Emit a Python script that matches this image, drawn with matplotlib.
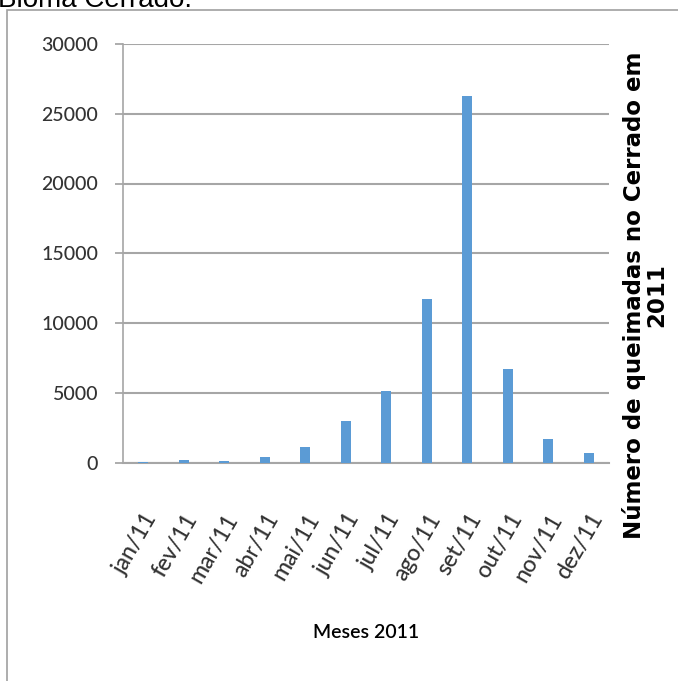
import matplotlib
matplotlib.use("Agg")
import matplotlib.pyplot as plt
from matplotlib.patches import Rectangle

# dados: número de queimadas no Cerrado por mês (2011)
meses = ["jan/11", "fev/11", "mar/11", "abr/11", "mai/11", "jun/11",
         "jul/11", "ago/11", "set/11", "out/11", "nov/11", "dez/11"]
queimadas = [20, 215, 120, 430, 1080, 2950, 5140, 11750, 26240, 6680, 1650, 690]
yticks = [0, 5000, 10000, 15000, 20000, 25000, 30000]

W, H = 678, 681
fig = plt.figure(figsize=(W / 100, H / 100), dpi=100)

fonte = ["Lato", "DejaVu Sans"]

# moldura do gráfico (cortada nas bordas da imagem)
fig.patches.append(Rectangle((7 / W, -0.1), 1.2, 1 - 10 / H + 0.1,
                             transform=fig.transFigure, fill=False,
                             edgecolor="#a0a0a0", lw=1.2))

# resto do texto da página acima do gráfico (cortado no topo, como no original)
fig.text(-2 / W, 1 - 7 / H, "Bioma Cerrado.", fontsize=20,
         family="Liberation Sans", color="black", va="baseline", ha="left")

ax = fig.add_axes([123 / W, 1 - 462.5 / H, 486 / W, 418.5 / H])
x = range(len(meses))
ax.bar(x, queimadas, width=0.25, color="#5b9bd5", zorder=3)

ax.set_xlim(-0.5, len(meses) - 0.5)
ax.set_ylim(0, 30000)
ax.set_yticks(yticks)
ax.set_yticklabels([str(v) for v in yticks], family=fonte, fontsize=14,
                   color="#333333", fontweight="medium")
ax.set_xticks(list(x))
ax.set_xticklabels(meses, family=fonte, fontsize=16.5, color="#333333",
                   fontweight="medium", rotation=60, ha="right",
                   rotation_mode="anchor")
ax.tick_params(axis="x", length=0, pad=34)
ax.tick_params(axis="y", length=6, width=1.2, color="#a0a0a0", pad=12)

ax.grid(axis="y", color="#a6a6a6", lw=1.5, zorder=0)
for s in ["top", "right"]:
    ax.spines[s].set_visible(False)
ax.spines["left"].set_color("#a6a6a6")
ax.spines["left"].set_linewidth(1.2)
ax.spines["bottom"].set_color("#a6a6a6")
ax.spines["bottom"].set_linewidth(1.5)

fig.text(366 / W, 1 - 632 / H, "Meses 2011", family=fonte, fontsize=14,
         fontweight="semibold", color="black", ha="center", va="center")

fig.text(645 / W, 1 - 295 / H, "Número de queimadas no Cerrado em\n2011",
         family="DejaVu Sans", fontweight="bold", fontsize=16.5, rotation=90,
         ha="center", va="center", multialignment="center", linespacing=0.95)

fig.savefig("out.png", dpi=100)
